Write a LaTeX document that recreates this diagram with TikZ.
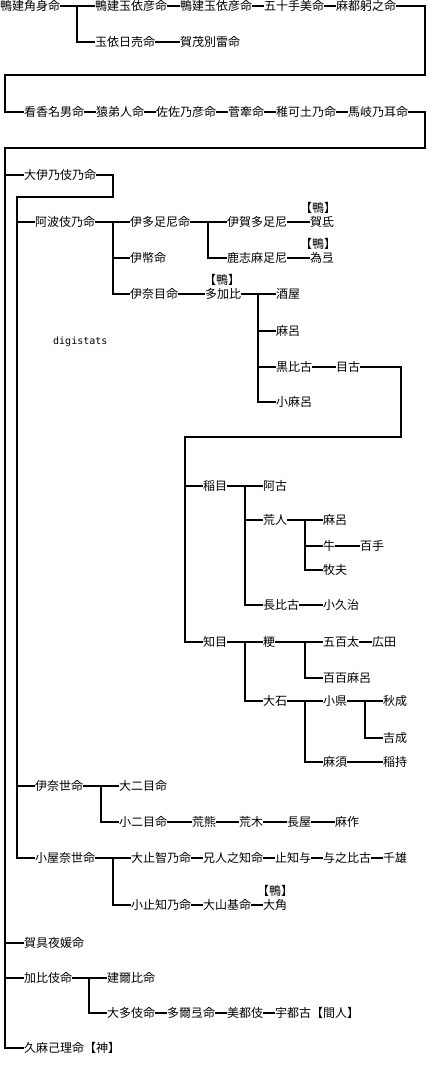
\documentclass[tikz,border=0pt]{standalone}
\usepackage{fontspec}
\newfontfamily\cjk{Noto Sans CJK JP}
\newfontfamily\monofont{DejaVu Sans Mono}
\tikzset{
  nm/.style={anchor=west, inner sep=0pt, text height=10.5pt, text depth=1.5pt, font=\cjk\fontsize{12}{12}\selectfont},
  ln/.style={line width=2pt, line join=miter},
  kamo/.style={label={[inner sep=0pt, text height=10.5pt, text depth=1.5pt, font=\cjk\fontsize{12}{12}\selectfont, label distance=2pt, xshift=#1]above:【鴨】}},
  kamo/.default=0pt
}
\begin{document}
\begin{tikzpicture}[x=1pt,y=-1pt]
\fill[white] (0,0) rectangle (432,1068);
\useasboundingbox (0,0) rectangle (432,1068);
% row 1
\node[nm] (n1) at (0,6) {鴨建角身命};
\node[nm] (n2) at (95,6) {鴨建玉依彦命};
\node[nm] (n3) at (180,6) {鴨建玉依彦命};
\node[nm] (n4) at (264,6) {五十手美命};
\node[nm] (n5) at (336,6) {麻都躬之命};
\node[nm] (n6) at (95,42) {玉依日売命};
\node[nm] (n7) at (180,42) {賀茂別雷命};
% row 2
\node[nm] (m1) at (24,112) {看香名男命};
\node[nm] (m2) at (96,112) {猿弟人命};
\node[nm] (m3) at (156,112) {佐佐乃彦命};
\node[nm] (m4) at (228,112) {菅牽命};
\node[nm] (m5) at (276,112) {稚可土乃命};
\node[nm] (m6) at (348,112) {馬岐乃耳命};
% generation branches
\node[nm] (a1) at (24,175) {大伊乃伎乃命};
\node[nm] (a2) at (35,222) {阿波伎乃命};
\node[nm] (b1) at (130,222) {伊多足尼命};
\node[nm] (b2) at (130,258) {伊幣命};
\node[nm] (b3) at (130,294) {伊奈目命};
\node[nm] (c1) at (227,222) {伊賀多足尼};
\node[nm] (c2) at (227,258) {鹿志麻足尼};
\node[nm,kamo=-4pt] (d1) at (310,222) {賀氐};
\node[nm,kamo=-4pt] (d2) at (310,258) {為弖};
\node[nm,kamo=-1pt] (e1) at (205,294) {多加比};
\node[nm] (f1) at (276,294) {酒屋};
\node[nm] (f2) at (276,331) {麻呂};
\node[nm] (f3) at (276,367) {黒比古};
\node[nm] (f4) at (276,402) {小麻呂};
\node[nm] (g1) at (336,367) {目古};
\node[anchor=west, inner sep=0pt, font=\monofont\fontsize{10}{10}\selectfont] (dg) at (53,342) {digistats};
\node[nm] (h1) at (203,486) {稲目};
\node[nm] (h2) at (203,642) {知目};
\node[nm] (i1) at (263,486) {阿古};
\node[nm] (i2) at (263,520) {荒人};
\node[nm] (i3) at (263,605) {長比古};
\node[nm] (j1) at (323,520) {麻呂};
\node[nm] (j2) at (323,546) {牛};
\node[nm] (j3) at (323,570) {牧夫};
\node[nm] (k1) at (360,546) {百手};
\node[nm] (j4) at (323,605) {小久治};
\node[nm] (i4) at (263,642) {粳};
\node[nm] (i5) at (263,701) {大石};
\node[nm] (l1) at (323,642) {五百太};
\node[nm] (l2) at (372,642) {広田};
\node[nm] (l3) at (323,678) {百百麻呂};
\node[nm] (l4) at (323,701) {小県};
\node[nm] (l5) at (323,762) {麻須};
\node[nm] (o1) at (383,701) {秋成};
\node[nm] (o2) at (383,738) {吉成};
\node[nm] (o3) at (383,762) {稲持};
\node[nm] (p1) at (35,786) {伊奈世命};
\node[nm] (p2) at (119,786) {大二目命};
\node[nm] (p3) at (119,822) {小二目命};
\node[nm] (p4) at (192,822) {荒熊};
\node[nm] (p5) at (239,822) {荒木};
\node[nm] (p6) at (287,822) {長屋};
\node[nm] (p7) at (335,822) {麻作};
\node[nm] (q1) at (35,858) {小屋奈世命};
\node[nm] (q2) at (131,858) {大止智乃命};
\node[nm] (q3) at (203,858) {兄人之知命};
\node[nm] (q4) at (275,858) {止知与};
\node[nm] (q5) at (323,858) {与之比古};
\node[nm] (q6) at (383,858) {千雄};
\node[nm] (s1) at (131,905) {小止知乃命};
\node[nm] (s2) at (203,905) {大山基命};
\node[nm,kamo] (s3) at (263,905) {大角};
\node[nm] (r1) at (24,943) {賀具夜媛命};
\node[nm] (r2) at (24,978) {加比伎命};
\node[nm] (r3) at (107,978) {建爾比命};
\node[nm] (r4) at (107,1013) {大多伎命};
\node[nm] (r5) at (167,1013) {多爾弖命};
\node[nm] (r6) at (227,1013) {美都伎};
\node[nm] (r7) at (275,1013) {宇都古【間人】};
\node[nm] (r8) at (24,1048) {久麻己理命【神】};
% junction coordinates
\coordinate (vn1) at (77,6);
\coordinate (t1) at (425,6);
\coordinate (t2) at (425,75);
\coordinate (t3) at (5,75);
\coordinate (u1) at (425,112);
\coordinate (u2) at (425,148);
\coordinate (u3) at (5,148);
\coordinate (w1) at (113,175);
\coordinate (w2) at (113,197);
\coordinate (w3) at (17,197);
\coordinate (va2) at (113,222);
\coordinate (vb1) at (208,222);
\coordinate (ve1) at (258,294);
\coordinate (g2) at (401,367);
\coordinate (g3) at (401,437);
\coordinate (g4) at (185,437);
\coordinate (vh1) at (245,486);
\coordinate (vi2) at (305,520);
\coordinate (vh2) at (245,642);
\coordinate (vi4) at (305,642);
\coordinate (vi5) at (305,701);
\coordinate (vl4) at (365,701);
\coordinate (vp1) at (101,786);
\coordinate (vq1) at (113,858);
\coordinate (vr2) at (89,978);
% connectors
\draw[ln] (n1.east) -- (n2.west) (n2.east) -- (n3.west) (n3.east) -- (n4.west) (n4.east) -- (n5.west);
\draw[ln] (vn1) |- (n6.west);
\draw[ln] (n6.east) -- (n7.west);
\draw[ln] (n5.east) -- (t1) -- (t2) -- (t3) |- (m1.west);
\draw[ln] (m1.east) -- (m2.west) (m2.east) -- (m3.west) (m3.east) -- (m4.west) (m4.east) -- (m5.west) (m5.east) -- (m6.west);
\draw[ln] (m6.east) -- (u1) -- (u2) -- (u3) |- (r8.west);
\draw[ln] (u3) |- (a1.west);
\draw[ln] (u3) |- (r1.west);
\draw[ln] (u3) |- (r2.west);
\draw[ln] (a1.east) -- (w1) -- (w2) -- (w3) |- (q1.west);
\draw[ln] (w3) |- (a2.west);
\draw[ln] (w3) |- (p1.west);
\draw[ln] (a2.east) -- (b1.west);
\draw[ln] (va2) |- (b2.west);
\draw[ln] (va2) |- (b3.west);
\draw[ln] (b1.east) -- (c1.west);
\draw[ln] (vb1) |- (c2.west);
\draw[ln] (c1.east) -- (d1.west);
\draw[ln] (c2.east) -- (d2.west);
\draw[ln] (b3.east) -- (e1.west);
\draw[ln] (e1.east) -- (f1.west);
\draw[ln] (ve1) |- (f2.west);
\draw[ln] (ve1) |- (f3.west);
\draw[ln] (ve1) |- (f4.west);
\draw[ln] (f3.east) -- (g1.west);
\draw[ln] (g1.east) -- (g2) -- (g3) -- (g4) |- (h2.west);
\draw[ln] (g4) |- (h1.west);
\draw[ln] (h1.east) -- (i1.west);
\draw[ln] (vh1) |- (i2.west);
\draw[ln] (vh1) |- (i3.west);
\draw[ln] (i2.east) -- (j1.west);
\draw[ln] (vi2) |- (j2.west);
\draw[ln] (vi2) |- (j3.west);
\draw[ln] (j2.east) -- (k1.west);
\draw[ln] (i3.east) -- (j4.west);
\draw[ln] (h2.east) -- (i4.west);
\draw[ln] (vh2) |- (i5.west);
\draw[ln] (i4.east) -- (l1.west);
\draw[ln] (l1.east) -- (l2.west);
\draw[ln] (vi4) |- (l3.west);
\draw[ln] (i5.east) -- (l4.west);
\draw[ln] (vi5) |- (l5.west);
\draw[ln] (l4.east) -- (o1.west);
\draw[ln] (vl4) |- (o2.west);
\draw[ln] (l5.east) -- (o3.west);
\draw[ln] (p1.east) -- (p2.west);
\draw[ln] (vp1) |- (p3.west);
\draw[ln] (p3.east) -- (p4.west) (p4.east) -- (p5.west) (p5.east) -- (p6.west) (p6.east) -- (p7.west);
\draw[ln] (q1.east) -- (q2.west);
\draw[ln] (vq1) |- (s1.west);
\draw[ln] (q2.east) -- (q3.west) (q3.east) -- (q4.west) (q4.east) -- (q5.west) (q5.east) -- (q6.west);
\draw[ln] (s1.east) -- (s2.west) (s2.east) -- (s3.west);
\draw[ln] (r2.east) -- (r3.west);
\draw[ln] (vr2) |- (r4.west);
\draw[ln] (r4.east) -- (r5.west) (r5.east) -- (r6.west) (r6.east) -- (r7.west);
\end{tikzpicture}
\end{document}
